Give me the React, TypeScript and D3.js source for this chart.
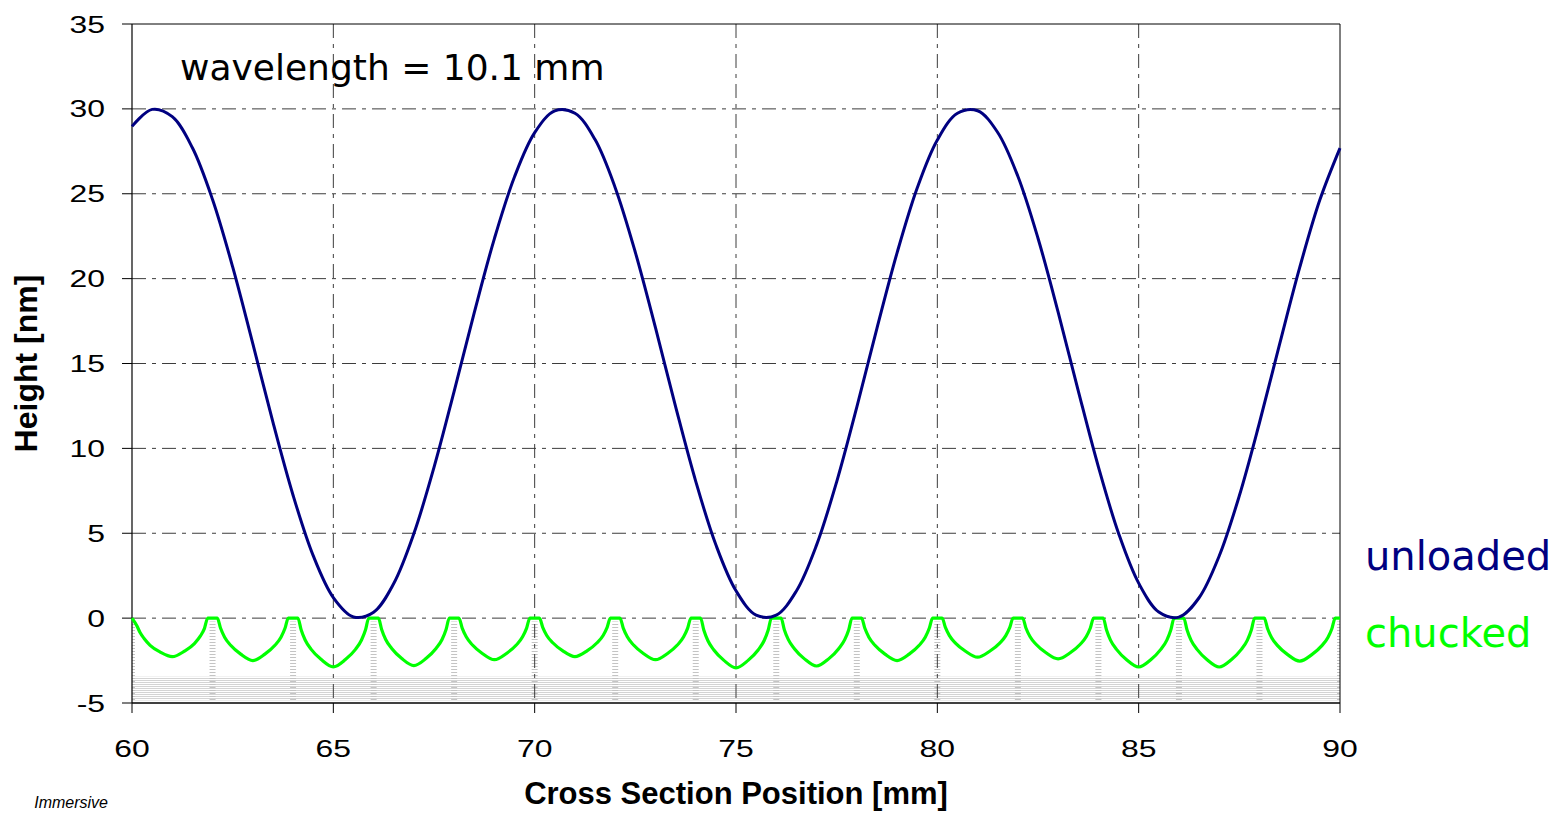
import * as d3 from "d3";

// unloaded profile, sampled every 0.5 mm from 60 to 90
const unloadedX = d3.range(60, 90.001, 0.5);
const unloadedY = [
  28.97, 29.97, 29.54, 27.71, 24.66, 20.69, 16.17, 11.54, 7.24, 3.68,
  1.21, 0.07, 0.35, 2.04, 4.98, 8.88, 13.36, 18.0, 22.36, 26.0,
  28.6, 29.88, 29.74, 28.19, 25.36, 21.55, 17.11, 12.46, 8.06, 4.32,
  1.61, 0.18, 0.18, 1.6, 4.3, 8.03, 12.43, 17.07, 21.52, 25.34,
  28.17, 29.74, 29.89, 28.61, 26.03, 22.38, 18.03, 13.39, 8.91, 5.0,
  2.06, 0.36, 0.06, 1.2, 3.66, 7.21, 11.51, 16.14, 20.66, 24.64, 27.69,
];

// chucked profile: one arc between each pair of pin contacts (every 2 mm)
const pinPositions = [60, 62, 64, 66, 68, 70, 72, 74, 76, 78, 80, 82, 84, 86, 88, 90];
const arcOffsets = [0, 0.12, 0.2, 0.3, 0.45, 0.7, 1.0, 1.3, 1.55, 1.7, 1.8, 1.88];
const chuckedArcs = [
  [0, -0.45, -0.85, -1.2, -1.6, -2.0, -2.27, -1.95, -1.5, -1.05, -0.6, 0],
  [0, 0, -0.6, -1.12, -1.6, -2.12, -2.5, -2.12, -1.6, -1.12, -0.6, 0],
  [0, 0, -0.69, -1.29, -1.84, -2.44, -2.87, -2.44, -1.84, -1.29, -0.69, 0],
  [0, 0, -0.67, -1.26, -1.79, -2.38, -2.8, -2.38, -1.79, -1.26, -0.67, 0],
  [0, 0, -0.59, -1.1, -1.57, -2.08, -2.45, -2.08, -1.57, -1.1, -0.59, 0],
  [0, 0, -0.54, -1.02, -1.45, -1.93, -2.27, -1.93, -1.45, -1.02, -0.54, 0],
  [0, 0, -0.59, -1.1, -1.57, -2.08, -2.45, -2.08, -1.57, -1.1, -0.59, 0],
  [0, 0, -0.7, -1.32, -1.88, -2.49, -2.93, -2.49, -1.88, -1.32, -0.7, 0],
  [0, 0, -0.68, -1.27, -1.8, -2.4, -2.82, -2.4, -1.8, -1.27, -0.68, 0],
  [0, 0, -0.6, -1.12, -1.6, -2.12, -2.5, -2.12, -1.6, -1.12, -0.6, 0],
  [0, 0, -0.55, -1.03, -1.47, -1.95, -2.3, -1.95, -1.47, -1.03, -0.55, 0],
  [0, 0, -0.58, -1.08, -1.54, -2.04, -2.4, -2.04, -1.54, -1.08, -0.58, 0],
  [0, 0, -0.69, -1.3, -1.84, -2.45, -2.88, -2.45, -1.84, -1.3, -0.69, 0],
  [0, 0, -0.69, -1.3, -1.84, -2.45, -2.88, -2.45, -1.84, -1.3, -0.69, 0],
  [0, 0, -0.61, -1.14, -1.62, -2.15, -2.53, -2.15, -1.62, -1.14, -0.61, 0],
];

const xTicks = [60, 65, 70, 75, 80, 85, 90];
const yTicks = [-5, 0, 5, 10, 15, 20, 25, 30, 35];

const width = 1562;
const height = 813;
const marginLeft = 132;
const marginRight = 222;
const marginTop = 24;
const marginBottom = 110;

const NAVY = "#000080";
const GREEN = "#00ff00";
const GRID = "#3c3c3c";

export default function App() {
  const x = d3.scaleLinear().domain([60, 90]).range([marginLeft, width - marginRight]);
  const y = d3.scaleLinear().domain([-5, 35]).range([height - marginBottom, marginTop]);

  const unloaded = unloadedX.map((v, i) => [v, unloadedY[i]] as [number, number]);
  const chucked: [number, number][] = [];
  chuckedArcs.forEach((arc, i) => {
    arc.forEach((v, j) => chucked.push([pinPositions[i] + arcOffsets[j], v]));
  });
  chucked.push([90, 0]);

  const line = d3
    .line<[number, number]>()
    .x((d) => x(d[0]))
    .y((d) => y(d[1]));

  const x0 = x(60);
  const x1 = x(90);
  const yTop = y(35);
  const yBot = y(-5);

  return (
    <svg
      width={width}
      height={height}
      style={{ position: "absolute", left: 0, top: 0, background: "#fff" }}
      fontFamily="'Liberation Sans', Arial, sans-serif"
    >
      <defs>
        <pattern id="hatch" width="4" height="2" patternUnits="userSpaceOnUse">
          <line x1="0" x2="4" y1="0.5" y2="0.5" stroke="#d4d4d4" strokeWidth="1" />
        </pattern>
        <pattern id="hatchDark" width="4" height="3" patternUnits="userSpaceOnUse">
          <line x1="0" x2="4" y1="0.5" y2="0.5" stroke="#c4c4c4" strokeWidth="1" />
        </pattern>
      </defs>

      {/* faint fill residue below the chucked curve */}
      <rect x={x0} y={y(-3.45)} width={x1 - x0} height={y(-4.85) - y(-3.45)} fill="url(#hatch)" />
      {pinPositions.map((p) => (
        <rect
          key={p}
          x={Math.max(x0, x(p) - 3)}
          y={y(-0.2)}
          width={p === 60 || p === 90 ? 3 : 6}
          height={y(-4.85) - y(-0.2)}
          fill="url(#hatchDark)"
        />
      ))}

      {/* grid */}
      <g stroke={GRID} strokeWidth="1" strokeDasharray="14,6,4,6">
        {yTicks
          .filter((t) => t > -5 && t < 35)
          .map((t) => (
            <line key={t} x1={x0} x2={x1} y1={y(t)} y2={y(t)} />
          ))}
        {xTicks
          .filter((t) => t > 60 && t < 90)
          .map((t) => (
            <line key={t} x1={x(t)} x2={x(t)} y1={yTop} y2={yBot} />
          ))}
      </g>

      {/* frame */}
      <g stroke="#000" fill="none">
        <line x1={x0} x2={x1} y1={yTop} y2={yTop} strokeWidth="1" />
        <line x1={x1} x2={x1} y1={yTop} y2={yBot} strokeWidth="1" />
        <line x1={x0} x2={x0} y1={yTop} y2={yBot} strokeWidth="1.2" />
        <line x1={x0} x2={x1} y1={yBot} y2={yBot} strokeWidth="1.5" />
        {yTicks.map((t) => (
          <line key={t} x1={x0 - 10} x2={x0} y1={y(t)} y2={y(t)} strokeWidth="1" />
        ))}
        {xTicks.map((t) => (
          <line key={t} x1={x(t)} x2={x(t)} y1={yBot} y2={yBot + 10} strokeWidth="1" />
        ))}
      </g>

      {/* curves */}
      <path
        d={line.curve(d3.curveMonotoneX)(chucked) ?? ""}
        fill="none"
        stroke={GREEN}
        strokeWidth="3.2"
        strokeLinejoin="round"
      />
      <path
        d={line.curve(d3.curveCatmullRom)(unloaded) ?? ""}
        fill="none"
        stroke={NAVY}
        strokeWidth="3"
        strokeLinejoin="round"
      />

      {/* tick labels */}
      <g fontSize="24" fill="#000">
        {yTicks.map((t) => (
          <text key={t} transform={`translate(105,${y(t) + 8.5}) scale(1.33,1)`} textAnchor="end">
            {t}
          </text>
        ))}
        {xTicks.map((t) => (
          <text key={t} transform={`translate(${x(t)},757) scale(1.33,1)`} textAnchor="middle">
            {t}
          </text>
        ))}
      </g>

      {/* axis titles */}
      <text
        transform={`translate(37,${(yTop + yBot) / 2}) rotate(-90)`}
        textAnchor="middle"
        fontSize="32"
        fontWeight="bold"
      >
        Height [nm]
      </text>
      <text x={(x0 + x1) / 2} y={804} textAnchor="middle" fontSize="31" fontWeight="bold">
        Cross Section Position [mm]
      </text>

      {/* annotations */}
      <g fontFamily="'DejaVu Sans', sans-serif">
        <text x={180} y={80} fontSize="36" fill="#000">
          wavelength = 10.1 mm
        </text>
        <text x={1365} y={570} fontSize="40" fill={NAVY}>
          unloaded
        </text>
        <text x={1365} y={647} fontSize="40" fill={GREEN}>
          chucked
        </text>
      </g>
      <text x={108} y={808} textAnchor="end" fontSize="16" fontStyle="italic" fill="#000">
        Immersive
      </text>
    </svg>
  );
}
